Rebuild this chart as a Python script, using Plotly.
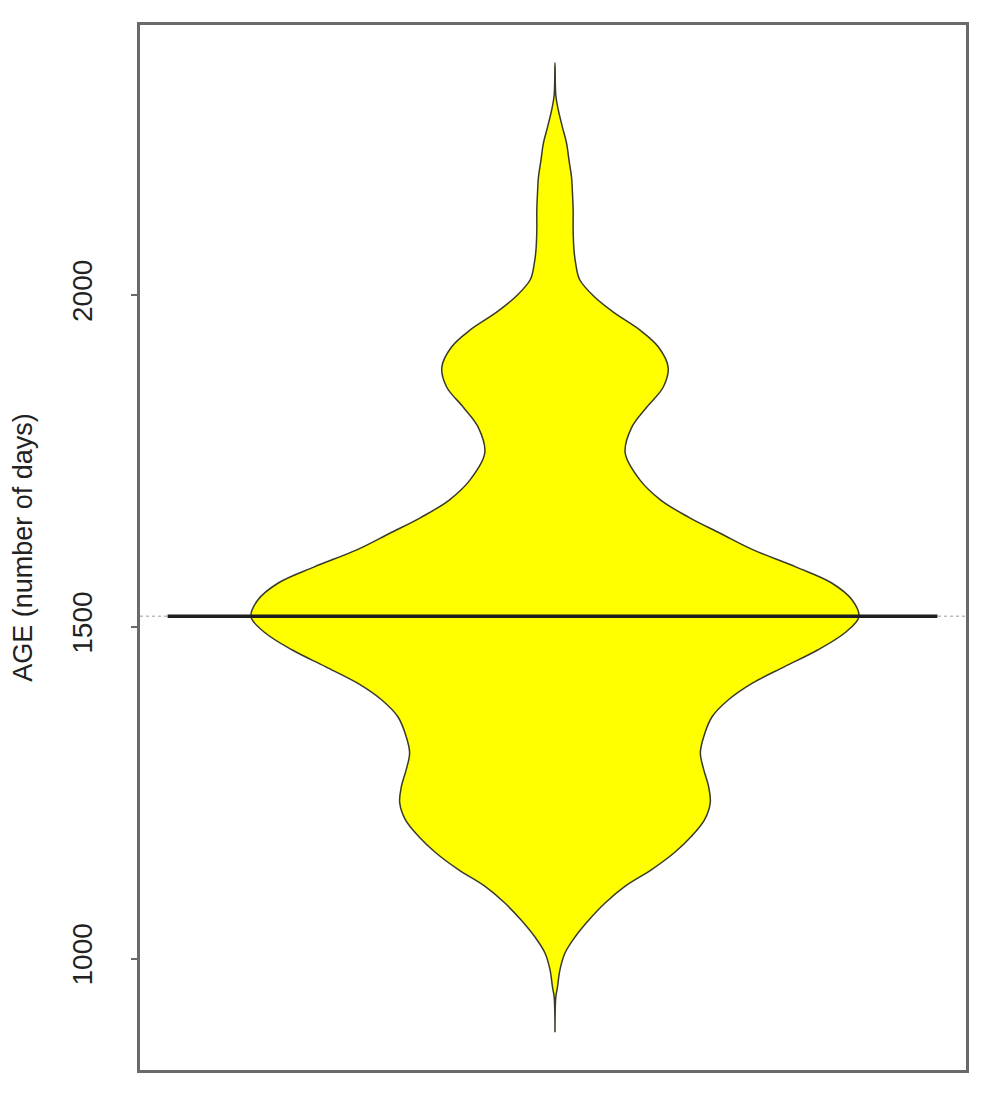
import plotly.graph_objects as go

# Bean (density outline): AGE value and half-width of the bean
age_values = [2350, 2301, 2279, 2253, 2229, 2203, 2178, 2158, 2128, 2098, 2068, 2048, 2023,
              1997, 1973, 1947, 1922, 1891, 1861, 1831, 1801, 1762, 1721, 1691, 1665, 1641,
              1616, 1590, 1566, 1540, 1515, 1491, 1465, 1440, 1415, 1390, 1364, 1334, 1310,
              1285, 1259, 1235, 1209, 1184, 1159, 1134, 1109, 1084, 1058, 1032, 1008, 983,
              957, 942, 889]
half_width = [0.0, 0.001, 0.004, 0.009, 0.014, 0.017, 0.020, 0.021, 0.022, 0.022, 0.023, 0.025, 0.030,
              0.048, 0.072, 0.103, 0.125, 0.137, 0.131, 0.111, 0.093, 0.085, 0.103, 0.128, 0.162, 0.200,
              0.240, 0.292, 0.335, 0.360, 0.368, 0.351, 0.318, 0.278, 0.239, 0.210, 0.190, 0.180, 0.176,
              0.180, 0.186, 0.188, 0.181, 0.165, 0.144, 0.117, 0.085, 0.061, 0.041, 0.024, 0.012, 0.006,
              0.003, 0.001, 0.0]

group_position = 1.0
mean_age = 1516
mean_line_left = 0.469
mean_line_right = 0.463

y_ticks = [1000, 1500, 2000]
y_range = [832, 2407]
x_range = [1 - 0.5024, 1 + 0.4976]

xs = [group_position + w for w in half_width] + [group_position - w for w in reversed(half_width)]
ys = age_values + list(reversed(age_values))

fig = go.Figure()

# overall average (dotted, grey) across the plot
fig.add_trace(go.Scatter(x=x_range, y=[mean_age, mean_age], mode="lines",
                         line=dict(color="#bbbbbb", width=1.5, dash="dot"),
                         hoverinfo="skip", showlegend=False))

fig.add_trace(go.Scatter(x=xs, y=ys, mode="lines", fill="toself",
                         fillcolor="#ffff00",
                         line=dict(color="#3a3a2a", width=1.5, shape="spline", smoothing=1.0),
                         showlegend=False))

fig.add_trace(go.Scatter(x=[group_position - mean_line_left, group_position + mean_line_right],
                         y=[mean_age, mean_age], mode="lines",
                         line=dict(color="#1e1e1e", width=3.5),
                         showlegend=False))

fig.update_layout(
    width=992, height=1087,
    margin=dict(l=126, r=34, t=17, b=25),
    paper_bgcolor="white", plot_bgcolor="white",
    font=dict(family="Liberation Sans, Arial, sans-serif", color="#222222"),
    xaxis=dict(range=x_range, showticklabels=False, ticks="", showgrid=False, zeroline=False,
               showline=True, linecolor="#6a6a6a", linewidth=2.5, mirror=True),
    yaxis=dict(range=y_range, tickvals=y_ticks, ticktext=[str(v) for v in y_ticks],
               tickangle=-90, ticks="outside", ticklen=6, tickcolor="#6a6a6a", tickwidth=1.5,
               tickfont=dict(size=28, color="#222222"), ticklabelstandoff=28,
               showgrid=False, zeroline=False,
               showline=True, linecolor="#6a6a6a", linewidth=2.5, mirror=True,
               title=dict(text="AGE (number of days)", font=dict(size=27, color="#222222"),
                          standoff=28)),
)

fig.write_html("out.html")
